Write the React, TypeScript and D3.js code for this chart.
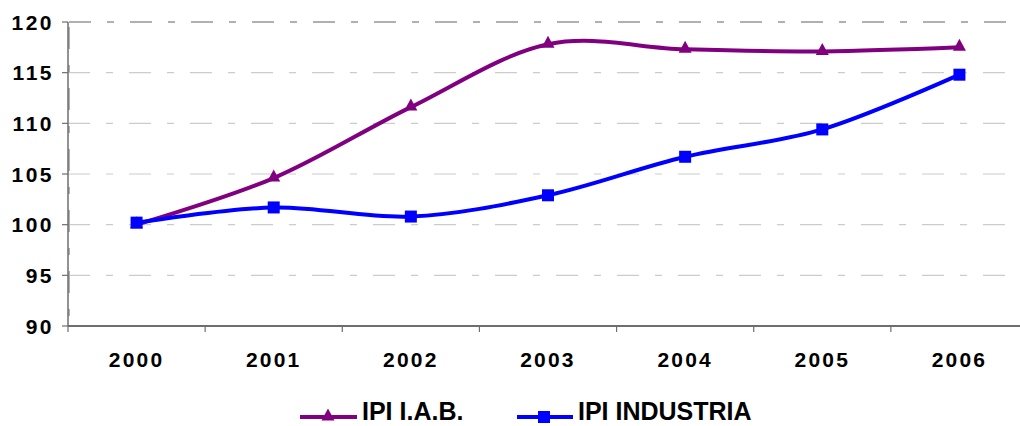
import React from "react";
import * as d3 from "d3";

const years = ["2000", "2001", "2002", "2003", "2004", "2005", "2006"];
const ipiIAB = [100.0, 104.6, 111.6, 117.8, 117.3, 117.1, 117.5];
const ipiIndustria = [100.2, 101.7, 100.8, 102.9, 106.7, 109.4, 114.8];
const yTicks = [90, 95, 100, 105, 110, 115, 120];
const seriesNames = ["IPI I.A.B.", "IPI INDUSTRIA"];

const W = 1020;
const H = 426;
const left = 68;
const right = 1028;
const top = 22;
const bottom = 326;

const FONT = "Arial, 'Liberation Sans', sans-serif";
const PURPLE = "#800080";
const BLUE = "#0000FF";
const DASH = "22,16,7,16";

export default function App() {
  const x = d3.scaleBand<string>().domain(years).range([left, right]).padding(0);
  const y = d3.scaleLinear().domain([90, 120]).range([bottom, top]);
  const cx = (d: string) => (x(d) as number) + x.bandwidth() / 2;

  const line = d3
    .line<number>()
    .x((_, i) => cx(years[i]))
    .y((v) => y(v))
    .curve(d3.curveCardinal.tension(0));

  const tri = "M0,-7.5L6.5,4.5L-6.5,4.5Z";
  const sq = (px: number, py: number, k: string) => (
    <rect key={k} x={px - 6} y={py - 6} width={12} height={12} fill={BLUE} />
  );

  const boundaries = years.map((d) => x(d) as number).concat([right]);

  return (
    <svg
      width={W}
      height={H}
      style={{ position: "absolute", left: 0, top: 0, background: "#fff" }}
      fontFamily={FONT}
    >
      <rect x={0} y={0} width={W} height={H} fill="#fff" />
      {yTicks
        .filter((t) => t !== 90 && t !== 120)
        .map((t) => (
          <line
            key={"g" + t}
            x1={left}
            x2={right}
            y1={y(t)}
            y2={y(t)}
            stroke="#cccccc"
            strokeWidth={1.2}
            strokeDasharray={DASH}
          />
        ))}
      <rect
        x={left + 1}
        y={top}
        width={right - left}
        height={bottom - top}
        fill="none"
        stroke="#b0b0b0"
        strokeWidth={2}
        strokeDasharray={DASH}
      />
      <line x1={left} x2={left} y1={top} y2={bottom} stroke="#6e6e6e" strokeWidth={1.5} />
      <line x1={left} x2={right} y1={bottom} y2={bottom} stroke="#6e6e6e" strokeWidth={2} />
      {yTicks.map((t) => (
        <line key={"yt" + t} x1={left - 6} x2={left} y1={y(t)} y2={y(t)} stroke="#6e6e6e" strokeWidth={1.2} />
      ))}
      {boundaries.map((b, i) => (
        <line key={"xt" + i} x1={b} x2={b} y1={bottom} y2={bottom + 6} stroke="#6e6e6e" strokeWidth={1.2} />
      ))}
      {yTicks.map((t) => (
        <text
          key={"yl" + t}
          x={54}
          y={y(t) + 7.5}
          textAnchor="end"
          fontSize={21}
          fontWeight="bold"
          letterSpacing={2.5}
          fill="#000"
        >
          {t}
        </text>
      ))}
      {years.map((d) => (
        <text
          key={"xl" + d}
          x={cx(d)}
          y={367}
          textAnchor="middle"
          fontSize={21}
          fontWeight="bold"
          letterSpacing={2.2}
          fill="#000"
        >
          {d}
        </text>
      ))}
      <path d={line(ipiIAB) || ""} fill="none" stroke={PURPLE} strokeWidth={4} strokeLinejoin="round" />
      <path d={line(ipiIndustria) || ""} fill="none" stroke={BLUE} strokeWidth={4} strokeLinejoin="round" />
      {ipiIAB.map((v, i) => (
        <path key={"m1" + i} d={tri} transform={`translate(${cx(years[i])},${y(v) - 1})`} fill={PURPLE} />
      ))}
      {ipiIndustria.map((v, i) => sq(cx(years[i]), y(v), "m2" + i))}
      <g>
        <line x1={300} x2={357} y1={417} y2={417} stroke={PURPLE} strokeWidth={4} />
        <path d={tri} transform="translate(328,416)" fill={PURPLE} />
        <text x={362} y={420} fontSize={25} fontWeight="bold" fill="#000">
          {seriesNames[0]}
        </text>
        <line x1={517} x2={573} y1={417} y2={417} stroke={BLUE} strokeWidth={4} />
        {sq(544, 417, "lg")}
        <text x={578} y={420} fontSize={25} fontWeight="bold" fill="#000">
          {seriesNames[1]}
        </text>
      </g>
    </svg>
  );
}
